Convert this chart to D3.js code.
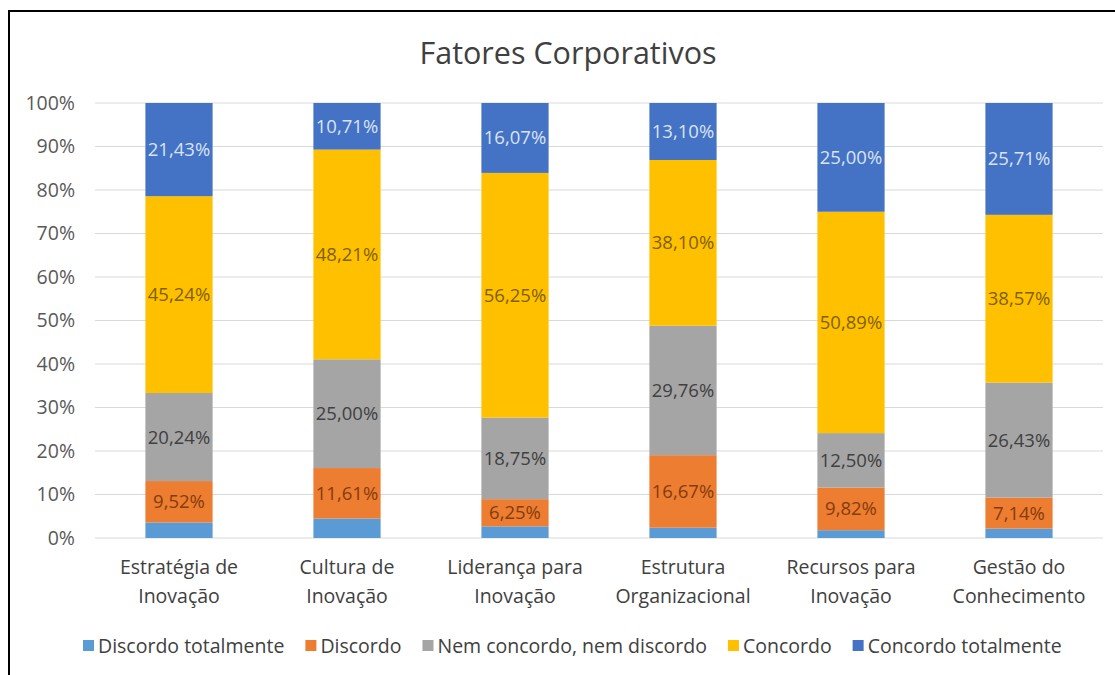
<!DOCTYPE html>
<html>
<head>
<meta charset="utf-8">
<script src="https://cdn.jsdelivr.net/npm/d3@7"></script>
<style>
  body { margin: 0; background: #fff; }
  svg { font-family: "Open Sans", "Noto Sans", sans-serif; }
</style>
</head>
<body>
<svg id="chart" width="1115" height="675"></svg>
<script>
// Categories (two-line labels)
const categories = [
    ['Estratégia de', 'Inovação'],
    ['Cultura de', 'Inovação'],
    ['Liderança para', 'Inovação'],
    ['Estrutura', 'Organizacional'],
    ['Recursos para', 'Inovação'],
    ['Gestão do', 'Conhecimento']
];
const seriesNames = ['Discordo totalmente', 'Discordo', 'Nem concordo, nem discordo', 'Concordo', 'Concordo totalmente'];

// Series values (%)
const discordoTotalmente = [3.57, 4.47, 2.68, 2.37, 1.79, 2.15];
const discordo = [9.52, 11.61, 6.25, 16.67, 9.82, 7.14];
const nemNem = [20.24, 25.00, 18.75, 29.76, 12.50, 26.43];
const concordo = [45.24, 48.21, 56.25, 38.10, 50.89, 38.57];
const concordoTotalmente = [21.43, 10.71, 16.07, 13.10, 25.00, 25.71];

const yTicks = [0, 10, 20, 30, 40, 50, 60, 70, 80, 90, 100];

const colors = ['#5B9BD5', '#ED7D31', '#A5A5A5', '#FFC000', '#4472C4'];
const labelColors = [null, '#843C0C', '#404040', '#7F6000', '#DAE3F3'];
const showLabel = [false, true, true, true, true];

const allSeries = [discordoTotalmente, discordo, nemNem, concordo, concordoTotalmente];

const rows = categories.map((c, i) => {
    const row = { key: i };
    seriesNames.forEach((s, j) => { row[s] = allSeries[j][i]; });
    return row;
});

const svg = d3.select('#chart');

// Frame
svg.append('path')
    .attr('d', 'M9,675 V11 H1115')
    .attr('fill', 'none')
    .attr('stroke', '#000')
    .attr('stroke-width', 2);

// Title
svg.append('text')
    .attr('x', 568)
    .attr('y', 64)
    .attr('text-anchor', 'middle')
    .style('font-size', '30.5px')
    .style('fill', '#404040')
    .text('Fatores Corporativos');

const x = d3.scaleBand()
    .domain(d3.range(categories.length))
    .range([95, 1103])
    .paddingInner(0.6)
    .paddingOuter(0.3);

const y = d3.scaleLinear()
    .domain([0, 100])
    .range([538, 103]);

// Gridlines
svg.append('g')
    .selectAll('line')
    .data(yTicks)
    .enter()
    .append('line')
    .attr('x1', 95)
    .attr('x2', 1103)
    .attr('y1', d => y(d))
    .attr('y2', d => y(d))
    .style('stroke', '#d9d9d9')
    .style('stroke-width', 1);

// Y axis labels
const yAxis = d3.axisLeft(y).tickValues(yTicks).tickFormat(d => d + '%').tickSize(0).tickPadding(0);
const yg = svg.append('g')
    .attr('transform', 'translate(75,0)')
    .call(yAxis);
yg.select('.domain').remove();
yg.selectAll('text')
    .style('font-size', '19.5px')
    .style('fill', '#595959')
    .style('font-family', '"Open Sans", sans-serif');

const stack = d3.stack().keys(seriesNames);
const stacked = stack(rows);

const layers = svg.append('g')
    .selectAll('g')
    .data(stacked)
    .enter()
    .append('g')
    .attr('fill', (d, i) => colors[i]);

layers.selectAll('rect')
    .data(d => d)
    .enter()
    .append('rect')
    .attr('x', d => x(d.data.key))
    .attr('y', d => y(d[1]))
    .attr('width', x.bandwidth())
    .attr('height', d => y(d[0]) - y(d[1]));

// Data labels
stacked.forEach((layer, i) => {
    if (!showLabel[i]) return;
    svg.append('g')
        .selectAll('text')
        .data(layer)
        .enter()
        .append('text')
        .attr('x', d => x(d.data.key) + x.bandwidth() / 2)
        .attr('y', d => y((d[0] + d[1]) / 2))
        .attr('dy', '0.35em')
        .attr('text-anchor', 'middle')
        .style('font-size', '18.5px')
        .style('fill', labelColors[i])
        .text(d => (d[1] - d[0]).toFixed(2).replace('.', ',') + '%');
});

// Category labels
const catG = svg.append('g');
categories.forEach((lines, i) => {
    const t = catG.append('text')
        .attr('x', x(i) + x.bandwidth() / 2)
        .attr('y', 574)
        .attr('text-anchor', 'middle')
        .style('font-size', '19.5px')
        .style('fill', '#404040');
    lines.forEach((l, k) => {
        t.append('tspan')
            .attr('x', x(i) + x.bandwidth() / 2)
            .attr('dy', k === 0 ? 0 : 29)
            .text(l);
    });
});

// Legend
const legend = svg.append('g').attr('transform', 'translate(0,646)');
let lx = 83;
seriesNames.forEach((s, i) => {
    legend.append('rect')
        .attr('x', lx)
        .attr('y', -6)
        .attr('width', 11)
        .attr('height', 11)
        .attr('fill', colors[i]);
    const t = legend.append('text')
        .attr('x', lx + 15)
        .attr('y', 0)
        .attr('dy', '0.35em')
        .style('font-size', '19.5px')
        .style('fill', '#404040')
        .text(s);
    lx += 15 + t.node().getComputedTextLength() + 21;
});
</script>
</body>
</html>
